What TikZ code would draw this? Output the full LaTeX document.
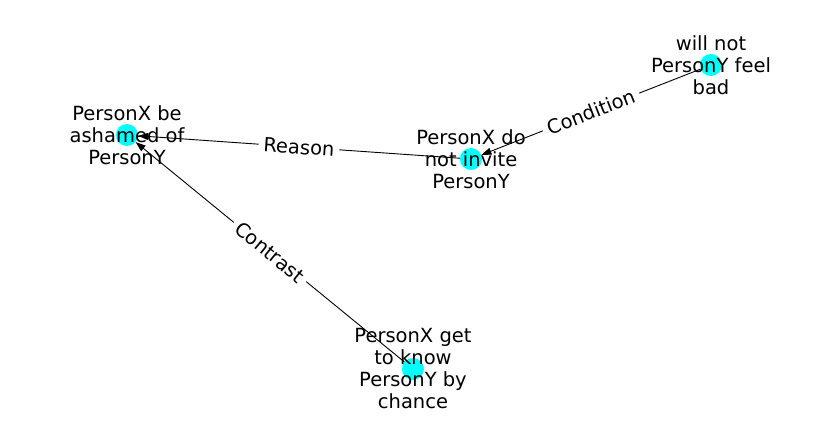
\documentclass[tikz,border=0pt]{standalone}
\usepackage{fontspec}
\setmainfont{DejaVu Sans}
\usetikzlibrary{arrows.meta}

\definecolor{nodecyan}{RGB}{0,255,255}
\tikzset{
  dot/.style={circle, fill=nodecyan, draw=none, minimum size=22pt, inner sep=0pt},
  txt/.style={draw=none, align=center, font=\fontsize{19.5}{22}\selectfont},
  rel/.style={-{Triangle[length=10pt,width=7pt]}, line width=0.9pt},
  rellbl/.style={midway, sloped, fill=white, inner sep=5pt, font=\fontsize{19.5}{22}\selectfont}
}

\begin{document}
\begin{tikzpicture}[x=1pt,y=-1pt]
  \useasboundingbox (0,0) rectangle (837,434);

  % nodes
  \node[dot] (ashamed) at (127,135) {};
  \node[dot] (invite) at (471,159) {};
  \node[dot] (feel) at (711,65) {};
  \node[dot] (know) at (413,369) {};

  % relations
  \draw[rel] (invite) -- node[rellbl] {Reason} (ashamed);
  \draw[rel] (feel) -- node[rellbl] {Condition} (invite);
  \draw[rel] (know) -- node[rellbl] {Contrast} (ashamed);

  % texts
  \node[txt] at (ashamed) {PersonX be\\ashamed of\\PersonY};
  \node[txt] at (invite) {PersonX do\\not invite\\PersonY};
  \node[txt] at (feel) {will not\\PersonY feel\\bad};
  \node[txt] at (know) {PersonX get\\to know\\PersonY by\\chance};
\end{tikzpicture}
\end{document}
